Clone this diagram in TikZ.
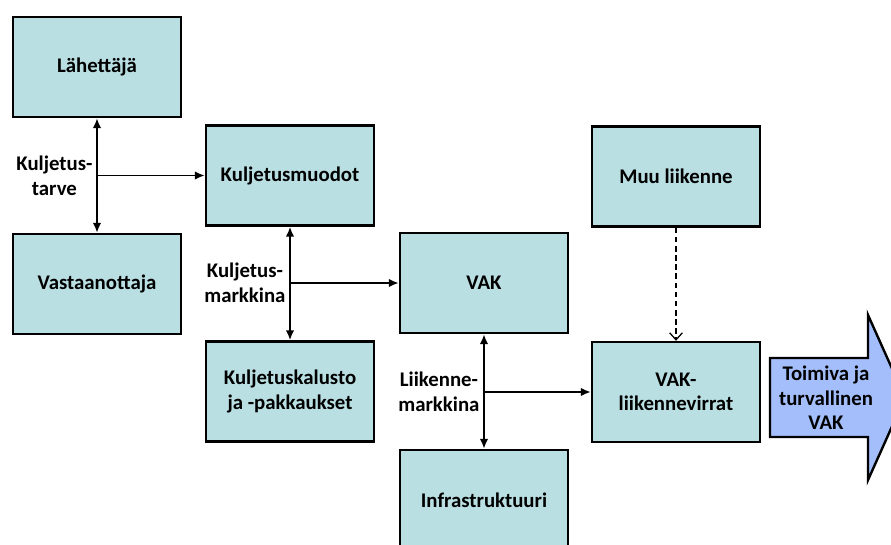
\documentclass[tikz,border=0pt]{standalone}
\usepackage{fontspec}
\setmainfont{Carlito}
\usetikzlibrary{arrows.meta,calc,positioning}
\definecolor{BoxTeal}{HTML}{B9DFE3}
\definecolor{GoalBlue}{HTML}{A3BEFA}

\begin{document}
\begin{tikzpicture}[x=0.025cm,y=-0.025cm,
      font=\bfseries\fontsize{14.8}{17.5}\selectfont,
      block/.style={draw=black,fill=BoxTeal,line width=1.7pt,
                    minimum width=4.2cm,minimum height=2.5cm,
                    align=center,inner sep=2pt},
      flow/.style={-{Latex[length=7pt,width=6pt]},line width=1.4pt},
      both/.style={{Latex[length=7pt,width=6pt]}-{Latex[length=7pt,width=6pt]},
                   line width=1.4pt},
      tag/.style={anchor=east,align=center,inner sep=1pt}]
    \clip (0,0) rectangle (891,544);

    % Actors on the left, markets and flows towards the right.
    \node[block] (lahettaja) at (97,67) {Lähettäjä};
    \node[block] (vastaanottaja) at (97,284) {Vastaanottaja};
    \node[block] (muodot) at (290,175.5) {Kuljetusmuodot};
    \node[block] (kalusto) at (290,391.5) {Kuljetuskalusto\\ja -pakkaukset};
    \node[block] (vak) at (484,283) {VAK};
    \node[block] (infra) at (484,500) {Infrastruktuuri};
    \node[block] (muu) at (676,176.5) {Muu liikenne};
    \node[block] (virrat) at (676,392) {VAK-\\liikennevirrat};

    % Each market sits on a two-way link and feeds the next level.
    \foreach \src/\dst/\side/\txt in {
        lahettaja/vastaanottaja/muodot/{Kuljetus-\\tarve},
        muodot/kalusto/vak/{Kuljetus-\\markkina},
        vak/infra/virrat/{Liikenne-\\markkina}}{%
      \draw[both] (\src.south) -- (\dst.north);
      \draw[flow] (\src.south |- \side.west) -- (\side.west);
      \node[tag] (tag\src) at ([xshift=-2pt]\src.south |- \side.west) {\txt};
    }
    \draw[dash pattern=on 4pt off 2.5pt,line width=0.9pt,
          -{Straight Barb[length=5pt,width=9pt]}]
      (muu.south) -- (virrat.north);

    % Outcome arrow, its tip runs past the right edge.
    \path[draw=black,fill=GoalBlue,line width=1.7pt]
      (770,358) -- (868,358) -- (868,315) -- (905,397.5)
      -- (868,480) -- (868,437) -- (770,437) -- cycle;
    \node[align=center,inner sep=0pt] (goal) at (826,398)
      {Toimiva ja\\turvallinen\\VAK};
  \end{tikzpicture}
\end{document}
